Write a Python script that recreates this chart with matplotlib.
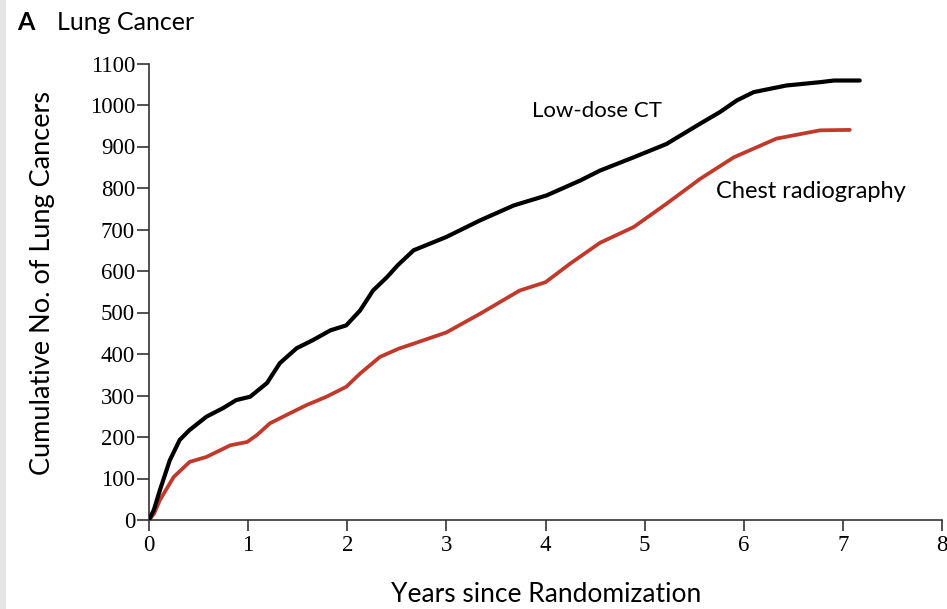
import matplotlib
matplotlib.use("Agg")
import matplotlib.pyplot as plt
from matplotlib.patches import Rectangle

# Cumulative number of lung cancers by years since randomization
ct_years = [0, 0.05, 0.11, 0.21, 0.31, 0.41, 0.58, 0.75, 0.88, 1.02, 1.19, 1.32,
            1.49, 1.65, 1.83, 1.99, 2.13, 2.26, 2.40, 2.51, 2.67, 3.0, 3.34, 3.68,
            4.01, 4.35, 4.55, 4.89, 5.22, 5.56, 5.76, 5.93, 6.10, 6.43, 6.77, 6.91, 7.17]
ct_counts = [0, 25, 72, 144, 193, 217, 249, 270, 289, 297, 330, 378,
             414, 433, 457, 469, 505, 553, 585, 614, 650, 682, 722, 758,
             782, 818, 842, 874, 906, 955, 983, 1011, 1031, 1047, 1055, 1059, 1059]

xr_years = [0, 0.05, 0.11, 0.25, 0.41, 0.58, 0.82, 0.99, 1.09, 1.22, 1.42, 1.59,
            1.79, 1.99, 2.13, 2.33, 2.52, 2.67, 3.0, 3.34, 3.74, 4.0, 4.25, 4.55,
            4.89, 5.22, 5.56, 5.90, 6.33, 6.77, 7.07]
xr_counts = [0, 15, 48, 104, 140, 152, 180, 188, 205, 233, 257, 277,
             297, 321, 353, 393, 413, 425, 452, 497, 553, 573, 618, 668,
             706, 762, 822, 874, 919, 939, 940]

x_ticks = [0, 1, 2, 3, 4, 5, 6, 7, 8]
y_ticks = [0, 100, 200, 300, 400, 500, 600, 700, 800, 900, 1000, 1100]

W, H = 947, 609
fig = plt.figure(figsize=(W / 100, H / 100), dpi=100)
fig.patch.set_facecolor("white")

# light gray strip along the left edge
fig.patches.append(Rectangle((0, 0), 6 / W, 1, transform=fig.transFigure,
                             facecolor="#e6e6e6", edgecolor="none", zorder=0))

ax = fig.add_axes([149 / W, (H - 520) / H, (942 - 149) / W, (520 - 63.5) / H])
ax.set_xlim(0, 8)
ax.set_ylim(0, 1100)

ax.plot(xr_years, xr_counts, color="#c0392b", lw=2.7, solid_joinstyle="round",
        solid_capstyle="round", zorder=3)
ax.plot(ct_years, ct_counts, color="black", lw=3.0, solid_joinstyle="round",
        solid_capstyle="round", zorder=4)

for s in ["top", "right"]:
    ax.spines[s].set_visible(False)
for s in ["left", "bottom"]:
    ax.spines[s].set_linewidth(1.2)
    ax.spines[s].set_color("#333333")

tick_font = {"family": "Liberation Serif", "size": 16.5}
ax.set_xticks(x_ticks)
ax.set_yticks(y_ticks)
ax.set_xticklabels([str(v) for v in x_ticks], fontdict=tick_font)
ax.set_yticklabels([str(v) for v in y_ticks], fontdict=tick_font)
ax.tick_params(axis="x", length=8, width=1.2, color="#333333", pad=3)
ax.tick_params(axis="y", length=9, width=1.2, color="#333333", pad=1)

label_family = ["Lato", "DejaVu Sans"]
ax.set_xlabel("Years since Randomization", family=label_family, fontsize=19)
ax.xaxis.set_label_coords(0.5006, -0.135)
ax.set_ylabel("Cumulative No. of Lung Cancers", family=label_family,
              fontsize=19.5)
ax.yaxis.set_label_coords(-0.119, 0.52)

ax.text(4.52, 985, "Low-dose CT", family=label_family, fontsize=16,
        ha="center", va="center")
ax.text(5.72, 792, "Chest radiography", family=label_family, fontsize=17,
        ha="left", va="center")

fig.text(17 / W, 1 - 22 / H, "A", family=label_family, fontsize=18,
         fontweight="bold", ha="left", va="center")
fig.text(57 / W, 1 - 22 / H, "Lung Cancer", family=label_family, fontsize=18,
         ha="left", va="center")

fig.savefig("out.png", dpi=100, facecolor="white")
